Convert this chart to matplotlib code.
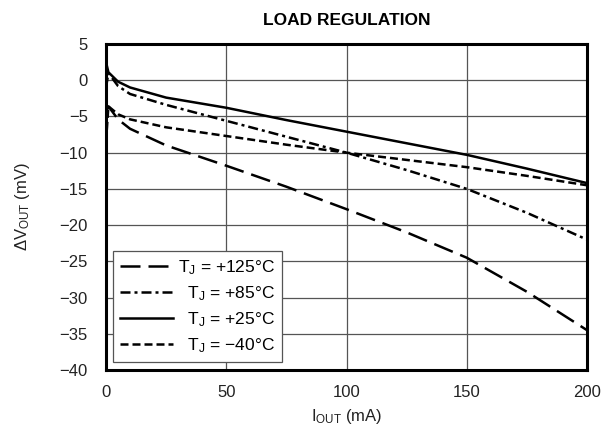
import matplotlib
matplotlib.use("Agg")
import matplotlib.pyplot as plt

plt.rcParams['font.family'] = ['Liberation Sans', 'DejaVu Sans']
plt.rcParams['mathtext.fontset'] = 'custom'
plt.rcParams['mathtext.rm'] = 'Liberation Sans'
plt.rcParams['mathtext.it'] = 'Liberation Sans'

# (mA, mV)
x125 = [0, 1, 5, 10, 25, 50, 75, 100, 125, 150, 175, 200]
y125 = [-4.5, -3.6, -5.4, -6.7, -9.0, -11.8, -14.7, -17.8, -21.0, -24.5, -29.2, -34.5]
x85 = [0, 1, 5, 10, 25, 50, 75, 100, 125, 150, 175, 200]
y85 = [-1.0, 1.0, -0.8, -1.9, -3.4, -5.6, -7.8, -10.0, -12.4, -15.0, -18.3, -22.0]
x25 = [0, 1, 5, 10, 25, 50, 75, 100, 125, 150, 175, 200]
y25 = [2.5, 1.1, -0.2, -1.0, -2.4, -3.8, -5.5, -7.1, -8.7, -10.3, -12.2, -14.2]
xm40 = [0, 1, 5, 10, 25, 50, 75, 100, 125, 150, 175, 200]
ym40 = [-8.5, -3.6, -4.7, -5.4, -6.5, -7.7, -8.9, -10.0, -11.0, -12.0, -13.2, -14.5]

labels = ['T$_\\mathregular{J}$ = +125°C',
          '\u2007T$_\\mathregular{J}$ = +85°C',
          '\u2007T$_\\mathregular{J}$ = +25°C',
          '\u2007T$_\\mathregular{J}$ = \u221240°C']
xticks = [0, 50, 100, 150, 200]
yticks = [5, 0, -5, -10, -15, -20, -25, -30, -35, -40]

fig = plt.figure(figsize=(6.11, 4.28), dpi=100)
ax = fig.add_axes([106/611, 58/428, 481/611, 326/428])

lw = 1.8
l1, = ax.plot(x125, y125, color='black', lw=lw, dashes=(8, 3.2))
l2, = ax.plot(x85, y85, color='black', lw=lw, dashes=(4, 1.6, 1.2, 1.6))
l3, = ax.plot(x25, y25, color='black', lw=lw)
l4, = ax.plot(xm40, ym40, color='black', lw=lw, dashes=(3.2, 1.6))

ax.set_xlim(0, 200)
ax.set_ylim(-40, 5)
ax.set_xticks(xticks)
ax.set_xticklabels([str(t) for t in xticks])
ax.set_yticks(yticks)
ax.set_yticklabels([str(t).replace('-', '\u2212') for t in yticks])
ax.tick_params(length=0, labelsize=12, colors='#222222')
ax.tick_params(axis='y', pad=13)
ax.tick_params(axis='x', pad=11)
ax.grid(True, color='#555555', lw=0.9)
ax.set_axisbelow(True)
for s in ax.spines.values():
    s.set_linewidth(2.2)
    s.set_color('black')

ax.set_xlabel('I$_\\mathregular{OUT}$ (mA)', fontsize=12, labelpad=5, color='#222222')
ax.set_ylabel('\u0394V$_\\mathregular{OUT}$ (mV)', fontsize=12, labelpad=20, color='#222222')
ax.set_title('LOAD REGULATION', fontsize=12.5, fontweight='bold', pad=14)

leg = ax.legend([l1, l2, l3, l4], labels, loc='lower left',
                bbox_to_anchor=(7/481, 8/326), borderaxespad=0,
                fontsize=12.5, handlelength=3.05, handletextpad=0.3,
                labelspacing=0.42, borderpad=0.4, fancybox=False,
                framealpha=1, edgecolor='#555555')
leg.get_frame().set_linewidth(0.9)

fig.savefig('out.png', dpi=100)
